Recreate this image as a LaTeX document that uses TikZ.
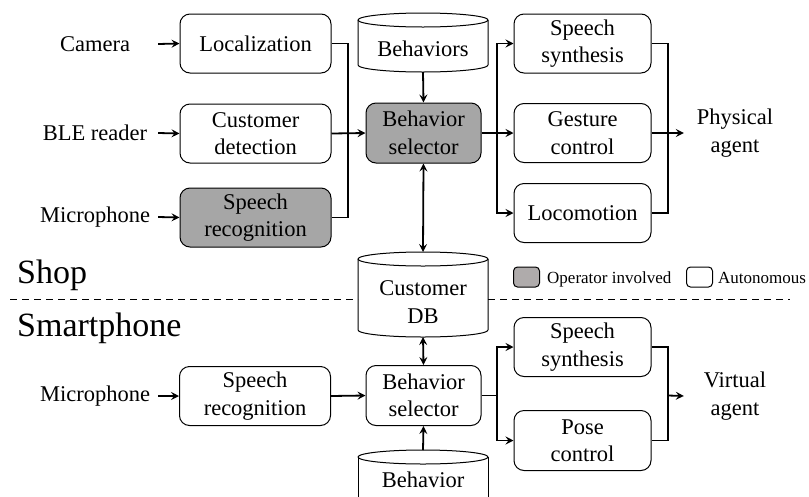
\documentclass[tikz,border=0pt]{standalone}
\usepackage{fontspec}
\setmainfont{Liberation Serif}
\usetikzlibrary{arrows.meta}
\definecolor{opgray}{RGB}{166,166,166}
\definecolor{leggray}{RGB}{175,171,171}
\begin{document}
\begin{tikzpicture}[x=1pt,y=-1pt,
  every node/.style={font=\fontsize{22.5}{27.5}\selectfont},
  box/.style={draw, line width=1pt, rounded corners=10pt, align=center, inner sep=0pt, minimum height=59pt},
  lbox/.style={box, minimum width=151pt},
  rbox/.style={box, minimum width=137pt},
  sbox/.style={box, minimum width=115pt, minimum height=60pt},
  opbox/.style={fill=opgray},
  inlabel/.style={align=center, inner sep=0pt, minimum width=126pt},
  outlabel/.style={align=center, inner sep=0pt, minimum width=102pt},
  cyl/.style={draw, line width=1pt, fill=white},
  conn/.style={line width=1.8pt},
  arr/.style={conn, -{Stealth[length=8pt,width=8pt,inset=3pt]}},
  darr/.style={conn, {Stealth[length=8pt,width=8pt,inset=3pt]}-{Stealth[length=8pt,width=8pt,inset=3pt]}},
  bigtext/.style={font=\fontsize{34}{40}\selectfont, inner sep=0pt, anchor=base west},
  legtext/.style={font=\fontsize{17}{20}\selectfont, inner sep=0pt, anchor=base west},
  legbox/.style={draw, line width=1pt, rounded corners=4pt, minimum width=26pt, minimum height=20pt, inner sep=0pt}
]
\useasboundingbox (0,0) rectangle (809,496);

% ---------- cylinders ----------
\draw[cyl] (358,20) -- (358,65) arc[start angle=180,end angle=0,x radius=65,y radius=7] -- (488,20);
\draw[cyl] (423,20) ellipse [x radius=65, y radius=7];
\node (beh) at (423,49) {Behaviors};
\coordinate (behB) at (423,72);

\draw[cyl] (358,259) -- (358,330) arc[start angle=180,end angle=0,x radius=65,y radius=7] -- (488,259);
\draw[cyl] (423,259) ellipse [x radius=65, y radius=7];
\node[align=center] (db) at (423,302) {Customer\\DB};
\coordinate (dbT) at (423,252);
\coordinate (dbB) at (423,337);

\draw[cyl] (358,457) -- (358,505) (488,505) -- (488,457);
\draw[cyl] (423,457) ellipse [x radius=65, y radius=7];
\node (beh2) at (423,480) {Behavior};
\coordinate (beh2T) at (423,450);

% ---------- dashed separator ----------
\draw[line width=1pt, dash pattern=on 7pt off 5pt] (10,299) -- (358,299);
\draw[line width=1pt, dash pattern=on 7pt off 5pt] (488,299) -- (790,299);
\node[bigtext] (shop) at (17,283) {Shop};
\node[bigtext] (smart) at (17,336) {Smartphone};

% ---------- legend ----------
\node[legbox, fill=leggray] (lg1) at (526.5,277) {};
\node[legtext] (lg1t) at (547,283) {Operator involved};
\node[legbox, fill=white] (lg2) at (699.5,277) {};
\node[legtext] (lg2t) at (718,283) {Autonomous};

% ---------- Shop: inputs ----------
\node[inlabel] (cam) at (95,44) {Camera};
\node[inlabel] (ble) at (95,133) {BLE reader};
\node[inlabel] (mic) at (95,217) {Microphone};

\node[lbox] (loc) at (255.5,43.5) {Localization};
\node[lbox] (det) at (255.5,133.5) {Customer\\detection};
\node[lbox, opbox] (rec) at (255.5,217.5) {Speech\\recognition};

\node[sbox, opbox] (sel) at (423.5,133) {Behavior\\selector};

\node[rbox] (ss) at (582.5,43.5) {Speech\\synthesis};
\node[rbox] (gc) at (582.5,133) {Gesture\\control};
\node[rbox] (loco) at (582.5,213) {Locomotion};

\node[outlabel] (phys) at (735,133) {Physical\\agent};

\draw[arr] (cam.east) -- (loc.west);
\draw[arr] (ble.east) -- (det.west);
\draw[arr] (mic.east) -- (rec.west);

\coordinate (busL) at (348,133);
\draw[conn] (loc.east) -| (busL) |- (rec.east);
\draw[arr] (det.east) -- (sel.west);

\coordinate (busR) at (497,133);
\draw[arr] (sel.east) -- (gc.west);
\draw[arr] (busR) |- (ss.west);
\draw[arr] (busR) |- (loco.west);

\coordinate (busO) at (668,133);
\draw[conn] (ss.east) -| (busO) |- (loco.east);
\draw[arr] (gc.east) -- (phys.west);

\draw[arr] (behB) -- (sel.north);
\draw[darr] (sel.south) -- (dbT);

% ---------- Smartphone ----------
\node[inlabel] (mic2) at (95,396) {Microphone};
\node[lbox] (rec2) at (255,396) {Speech\\recognition};
\node[sbox] (sel2) at (423.5,395.5) {Behavior\\selector};
\node[rbox] (ss2) at (582.5,347) {Speech\\synthesis};
\node[rbox, minimum height=60pt] (pose) at (582.5,440.5) {Pose\\control};
\node[outlabel] (virt) at (735,396) {Virtual\\agent};

\draw[arr] (mic2.east) -- (rec2.west);
\draw[arr] (rec2.east) -- (sel2.west);

\coordinate (busR2) at (497,395.5);
\draw[conn] (sel2.east) -- (busR2);
\draw[arr] (busR2) |- (ss2.west);
\draw[arr] (busR2) |- (pose.west);

\coordinate (busO2) at (668,395.5);
\draw[conn] (ss2.east) -| (busO2) |- (pose.east);
\draw[arr] (busO2) -- (virt.west);

\draw[darr] (dbB) -- (sel2.north);
\draw[arr] (beh2T) -- (sel2.south);
\end{tikzpicture}
\end{document}
